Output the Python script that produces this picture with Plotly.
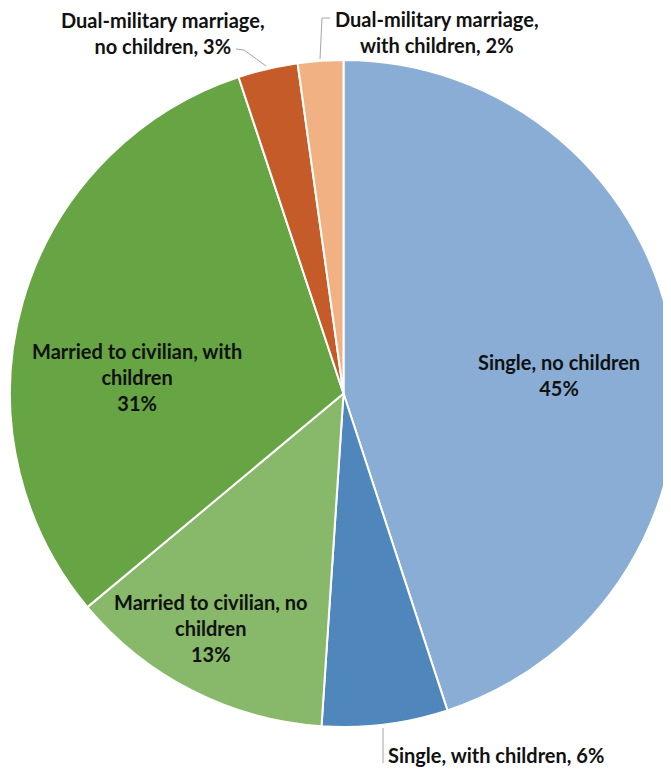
import plotly.graph_objects as go

labels = [
    "Single, no children",
    "Single, with children",
    "Married to civilian, no children",
    "Married to civilian, with children",
    "Dual-military marriage, no children",
    "Dual-military marriage, with children",
]
values = [45.0, 6.1, 12.9, 31.0, 2.9, 2.2]
colors = ["#89ADD5", "#4F86BC", "#88B86A", "#67A443", "#C55B28", "#F2B183"]

OFF = 8  # page body margin
W, H = 671, 761
FONT = dict(family="Lato, 'Noto Sans', sans-serif", size=20, color="#111111", weight=700)

fig = go.Figure()
fig.add_trace(go.Pie(
    labels=labels, values=values, sort=False, direction="clockwise", rotation=0,
    marker=dict(colors=colors, line=dict(color="white", width=2)),
    textinfo="none", hoverinfo="label+percent", showlegend=False,
    domain=dict(x=[0, 1], y=[(H - (727 - OFF)) / H, (H - (60 - OFF)) / H]),
))

total = sum(values)
pct = [round(v / total * 100) for v in values]

def px(x, y):
    return (x - OFF) / W, 1 - (y - OFF) / H

texts = [
    f"Single, no children<br>{pct[0]}%",
    f"Single, with children, {pct[1]}%",
    f"Married to civilian, no<br>children<br>{pct[2]}%",
    f"Married to civilian, with<br>children<br>{pct[3]}%",
    f"Dual-military marriage,<br>no children, {pct[4]}%",
    f"Dual-military marriage,<br>with children, {pct[5]}%",
]
pos = [(559, 375, "center"), (386, 755, "left"), (211, 628, "center"),
       (137, 377, "center"), (163, 33, "center"), (437, 32, "center")]

for t, (x, y, xa) in zip(texts, pos):
    ax, ay = px(x, y)
    fig.add_annotation(text=t, x=ax, y=ay, xref="paper", yref="paper",
                       xanchor=xa, yanchor="middle", showarrow=False,
                       font=FONT, align="center")

leaders = [
    [(383, 728), (383, 763)],
    [(236, 49), (244, 50), (266, 66)],
    [(330, 18), (322, 18), (320, 59)],
]
for pts in leaders:
    path = "M " + " L ".join(f"{(x - OFF) / W},{1 - (y - OFF) / H}" for x, y in pts)
    fig.add_shape(type="path", path=path, xref="paper", yref="paper",
                  line=dict(color="#A6A6A6", width=1))

fig.update_layout(width=W, height=H, margin=dict(l=0, r=0, t=0, b=0),
                  paper_bgcolor="white", plot_bgcolor="white")
fig.write_html("out.html")
